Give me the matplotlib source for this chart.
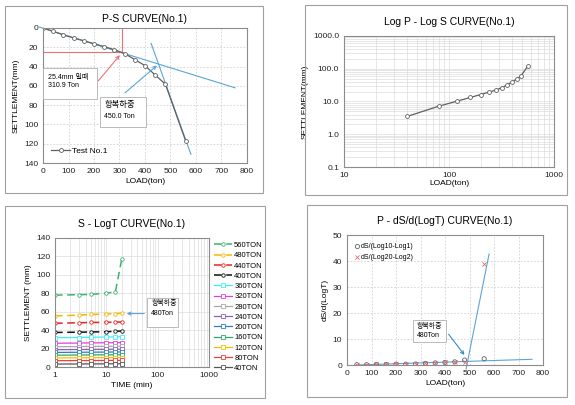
import matplotlib
matplotlib.use("Agg")
import matplotlib.pyplot as plt
from matplotlib.patches import Rectangle
from matplotlib.ticker import FixedLocator, FixedFormatter, NullFormatter, LogLocator

plt.rcParams['font.family'] = ['Liberation Sans', 'Noto Sans CJK KR']
plt.rcParams['font.size'] = 5.5

# load test data
loads = [0, 40, 80, 120, 160, 200, 240, 280, 320, 360, 400, 440, 480, 560]
settle = [0, 3.5, 7.2, 10.3, 13.3, 16.3, 19.3, 22.5, 26.5, 32.8, 39.0, 48.8, 58.2, 117.5]

# settlement vs time for each load step
times = [1, 3, 5, 10, 15, 20]
step_names = ['560TON', '480TON', '440TON', '400TON', '360TON', '320TON', '280TON',
              '240TON', '200TON', '160TON', '120TON', '80TON', '40TON']
step_settle = [
    [78.0, 78.5, 78.8, 80.2, 81.5, 117.5],
    [55.5, 56.3, 57.0, 57.5, 58.0, 58.2],
    [47.5, 48.0, 48.3, 48.5, 48.8, 48.8],
    [37.5, 37.8, 38.0, 38.3, 38.8, 39.0],
    [31.8, 32.0, 32.3, 32.5, 32.8, 32.8],
    [25.8, 26.0, 26.2, 26.3, 26.4, 26.5],
    [22.0, 22.2, 22.3, 22.4, 22.5, 22.5],
    [18.8, 19.0, 19.1, 19.2, 19.3, 19.3],
    [15.8, 16.0, 16.1, 16.2, 16.3, 16.3],
    [12.8, 13.0, 13.1, 13.2, 13.3, 13.3],
    [9.9, 10.0, 10.1, 10.2, 10.3, 10.3],
    [6.8, 7.0, 7.0, 7.1, 7.2, 7.2],
    [3.2, 3.3, 3.4, 3.4, 3.5, 3.5],
]
step_colors = ['#3cb371', '#f5b800', '#e8251e', '#111111', '#3ff0f0', '#e040e0', '#a8a8a8',
               '#8e5db8', '#2f7fc0', '#2ea86a', '#f2c200', '#e84040', '#555555']

# dS/d(logT) per load
ds_loads = [40, 80, 120, 160, 200, 240, 280, 320, 360, 400, 440, 480, 560]
ds_10_1 = [0.1, 0.1, 0.2, 0.2, 0.3, 0.3, 0.4, 0.6, 0.8, 1.0, 1.2, 1.9, 2.4]
ds_20_2 = [0.1, 0.1, 0.2, 0.2, 0.3, 0.3, 0.4, 0.6, 0.8, 1.1, 1.2, 1.2, 39.0]

# construction lines
ps_tan1_x, ps_tan1_y = [-15, 753], [-1, 62]
ps_tan2_x, ps_tan2_y = [424, 580], [16, 131]
ds_tan1_x, ds_tan1_y = [40, 755], [0.0, 2.2]
ds_tan2_x, ds_tan2_y = [486, 580], [-1.5, 42.7]
s_limit, p_limit = 25.4, 310.9

RED = '#f07070'
BLUE = '#5aa5d6'
GRID = '#d0d0d0'
SPINE = '#8c8c8c'

fig = plt.figure(figsize=(5.75, 4.05), dpi=100)
W, H = 575.0, 405.0


def frame(x0, y0, x1, y1):
    fig.add_artist(Rectangle((x0 / W, 1 - y1 / H), (x1 - x0) / W, (y1 - y0) / H,
                             transform=fig.transFigure, fill=False, ec='#a0a0a0', lw=0.8))


def box_axes(x0, y0, x1, y1):
    ax = fig.add_axes([x0 / W, 1 - y1 / H, (x1 - x0) / W, (y1 - y0) / H])
    for s in ax.spines.values():
        s.set_color(SPINE)
        s.set_linewidth(0.8)
    ax.tick_params(length=0, pad=3.5, labelsize=6, colors='#222222')
    return ax


frame(5, 6, 263, 193)
frame(305, 5, 567, 195)
frame(5, 206, 265, 398)
frame(307, 205, 567, 397)

# ---- P-S curve
ax1 = box_axes(43, 28, 247, 163)
ax1.set_xlim(0, 800)
ax1.set_ylim(140, 0)
ax1.set_xticks(range(0, 801, 100))
ax1.set_yticks(range(0, 141, 20))
ax1.grid(True, color=GRID, ls=(0, (2, 2)), lw=0.6)
ax1.plot(ps_tan1_x, ps_tan1_y, color=BLUE, lw=0.8, clip_on=False)
ax1.plot(ps_tan2_x, ps_tan2_y, color=BLUE, lw=0.8, clip_on=False)
ax1.plot([0, p_limit], [s_limit, s_limit], color=RED, lw=0.8)
ax1.plot([p_limit, p_limit], [0, s_limit], color=RED, lw=0.8)
ax1.plot(loads, settle, color='#606060', lw=0.9, marker='o', ms=2.8, mfc='white',
         mec='#606060', mew=0.6, label='Test No.1')
ax1.annotate('', xy=(308, 26), xytext=(210, 57),
             arrowprops=dict(arrowstyle='->', color=RED, lw=0.8))
ax1.annotate('', xy=(455, 37), xytext=(314, 69),
             arrowprops=dict(arrowstyle='->', color=BLUE, lw=0.8))
ax1.add_patch(Rectangle((0, 41.5), 212, 32.5, fc='white', ec='#b0b0b0', lw=0.6, zorder=3))
ax1.add_patch(Rectangle((224, 71.5), 180, 31, fc='white', ec='#b0b0b0', lw=0.6, zorder=3))
ax1.text(20, 51, '25.4mm 일때', fontsize=5, va='center', zorder=4)
ax1.text(20, 60, '310.9 Ton', fontsize=5, va='center', zorder=4)
ax1.text(240, 80, '항복하중', fontsize=6, va='center', zorder=4)
ax1.text(240, 92, '450.0 Ton', fontsize=5, va='center', zorder=4)
ax1.legend(loc='lower left', frameon=False, fontsize=6, handlelength=2.2,
           borderaxespad=0.6, handletextpad=0.3)
ax1.set_title('P-S CURVE(No.1)', fontsize=7.5, pad=4)
ax1.set_xlabel('LOAD(ton)', fontsize=6, labelpad=2)
ax1.set_ylabel('SETTLEMENT(mm)', fontsize=6, labelpad=3)

# ---- Log P - Log S
ax2 = box_axes(344, 36, 554, 167)
ax2.set_xscale('log')
ax2.set_yscale('log')
ax2.set_xlim(10, 1000)
ax2.set_ylim(0.1, 1000)
ax2.xaxis.set_major_locator(FixedLocator([10, 100, 1000]))
ax2.xaxis.set_major_formatter(FixedFormatter(['10', '100', '1000']))
ax2.yaxis.set_major_locator(FixedLocator([0.1, 1, 10, 100, 1000]))
ax2.yaxis.set_major_formatter(FixedFormatter(['0.1', '1.0', '10.0', '100.0', '1000.0']))
ax2.xaxis.set_minor_locator(LogLocator(base=10, subs=range(2, 10)))
ax2.yaxis.set_minor_locator(LogLocator(base=10, subs=range(2, 10)))
ax2.xaxis.set_minor_formatter(NullFormatter())
ax2.yaxis.set_minor_formatter(NullFormatter())
ax2.tick_params(which='minor', length=0)
ax2.grid(True, which='both', color='#dcdcdc', lw=0.5)
ax2.plot(loads[1:], settle[1:], color='#606060', lw=0.9, marker='o', ms=2.8,
         mfc='white', mec='#606060', mew=0.6)
ax2.set_title('Log P - Log S CURVE(No.1)', fontsize=7.5, pad=8)
ax2.set_xlabel('LOAD(ton)', fontsize=6, labelpad=1)
ax2.set_ylabel('SETTLEMENT(mm)', fontsize=6, labelpad=3)

# ---- S - LogT
ax3 = box_axes(55, 238, 209, 367)
ax3.set_xscale('log')
ax3.set_xlim(1, 1000)
ax3.set_ylim(0, 140)
ax3.set_yticks(range(0, 141, 20))
ax3.xaxis.set_major_locator(FixedLocator([1, 10, 100, 1000]))
ax3.xaxis.set_major_formatter(FixedFormatter(['1', '10', '100', '1000']))
ax3.xaxis.set_minor_locator(LogLocator(base=10, subs=range(2, 10)))
ax3.xaxis.set_minor_formatter(NullFormatter())
ax3.tick_params(which='minor', length=0)
ax3.grid(True, which='both', color='#dcdcdc', lw=0.5)
for i, (name, vals, col) in enumerate(zip(step_names, step_settle, step_colors)):
    dashed = i < 4
    ax3.plot(times, vals, color=col, lw=1.1 if dashed else 0.9,
             ls=(0, (5, 3)) if dashed else '-', marker='o' if dashed else 's',
             ms=2.5, mfc='white', mec=col, mew=0.6, label=name)
ax3.annotate('', xy=(22, 58), xytext=(62, 58),
             arrowprops=dict(arrowstyle='->', color=BLUE, lw=0.8))
ax3.add_patch(Rectangle((62, 43.5), 190, 31.5, fc='white', ec='#b0b0b0', lw=0.6, zorder=3))
ax3.text(75, 69, '항복하중', fontsize=5, va='center', zorder=4)
ax3.text(75, 58.5, '480Ton', fontsize=5, va='center', zorder=4)
ax3.legend(loc='upper left', bbox_to_anchor=(1.01, 1.0), frameon=False, fontsize=5.5,
           handlelength=2.3, labelspacing=0.38, handletextpad=0.3, borderaxespad=0.1)
ax3.set_title('S - LogT CURVE(No.1)', fontsize=7.5, pad=8)
ax3.set_xlabel('TIME (min)', fontsize=6, labelpad=2)
ax3.set_ylabel('SETTLEMENT (mm)', fontsize=6, labelpad=3)

# ---- P - dS/d(LogT)
ax4 = box_axes(347, 235, 543, 365)
ax4.set_xlim(0, 800)
ax4.set_ylim(0, 50)
ax4.set_xticks(range(0, 801, 100))
ax4.set_yticks(range(0, 51, 10))
ax4.grid(True, color=GRID, ls=(0, (2, 2)), lw=0.6)
ax4.plot(ds_tan1_x, ds_tan1_y, color=BLUE, lw=0.8, clip_on=False)
ax4.plot(ds_tan2_x, ds_tan2_y, color=BLUE, lw=0.8, clip_on=False)
ax4.scatter(ds_loads, ds_10_1, s=9, marker='o', facecolors='none', edgecolors='#606060',
            linewidths=0.6, label='dS/(Log10-Log1)', zorder=3)
ax4.scatter(ds_loads, ds_20_2, s=9, marker='x', color='#e86a6a', linewidths=0.6,
            label='dS/(Log20-Log2)', zorder=3)
ax4.annotate('', xy=(486, 3), xytext=(408, 12.7),
             arrowprops=dict(arrowstyle='->', color='#3a8ac8', lw=0.8))
ax4.add_patch(Rectangle((269, 8.8), 135, 8.5, fc='white', ec='#b0b0b0', lw=0.6, zorder=3))
ax4.text(285, 15, '항복하중', fontsize=5, va='center', zorder=4)
ax4.text(285, 11.3, '480Ton', fontsize=5, va='center', zorder=4)
ax4.legend(loc='upper left', frameon=False, fontsize=5, handlelength=0.6,
           handletextpad=0.2, labelspacing=0.5, borderaxespad=0.8)
ax4.set_title('P - dS/d(LogT) CURVE(No.1)', fontsize=7.5, pad=8)
ax4.set_xlabel('LOAD(ton)', fontsize=6, labelpad=2)
ax4.set_ylabel('dS/d(LogT)', fontsize=6, labelpad=3)

fig.savefig('out.png', dpi=100)
